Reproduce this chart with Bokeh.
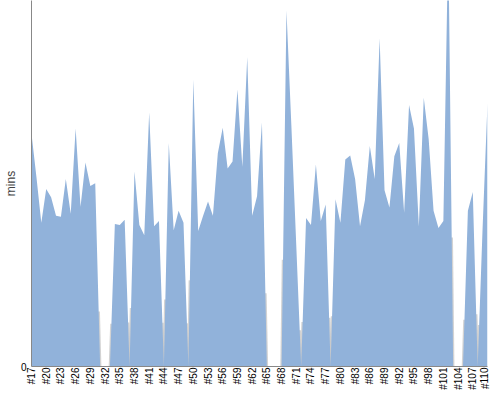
from bokeh.plotting import figure
from bokeh.models import Range1d, FixedTicker, ColumnDataSource
from bokeh.embed import file_html
from bokeh.resources import INLINE

builds = list(range(17, 111))
mins = [62.2, 50.7, 38.4, 47.4, 45.2, 40.3, 40.0, 50.1, 40.8, 63.6,
        42.7, 54.5, 48.2, 49.0, 0, 0, 0, 38.1, 37.8, 39.2,
        0, 52.1, 37.8, 35.1, 67.9, 37.5, 38.9, 0, 59.7, 36.4,
        41.6, 38.4, 0, 76.7, 36.2, 40.3, 44.1, 40.3, 57.0, 63.8,
        52.9, 54.8, 74.0, 53.4, 82.7, 40.3, 45.5, 65.2, 0, 0,
        0, 0, 95.1, 64.4, 32.3, 0, 39.7, 37.8, 54.0, 38.9,
        43.3, 0, 44.7, 38.4, 55.3, 56.4, 50.1, 37.5, 44.4, 58.9,
        50.1, 87.7, 47.1, 42.5, 56.2, 59.7, 41.1, 69.9, 63.6, 37.5,
        71.8, 60.8, 41.6, 37.0, 38.9, 115.0, 0, 0, 0, 41.6,
        46.6, 0, 37.0, 70.4]
tick_builds = list(range(17, 111, 3))
tick_labels = {b: "#%d" % b for b in tick_builds}

p = figure(width=490, height=392, output_backend="svg", toolbar_location=None,
           x_range=Range1d(17, 110), y_range=Range1d(0, 97.8),
           min_border_left=25, min_border_right=3, min_border_top=0, min_border_bottom=0)
p.outline_line_color = None
p.xgrid.visible = False
p.ygrid.visible = False

src = ColumnDataSource(dict(x=builds, y=mins))

# gray edges where the series drops to zero
sx0, sy0, sx1, sy1 = [], [], [], []
for i, v in enumerate(mins):
    if v == 0:
        for j in (i - 1, i + 1):
            if 0 <= j < len(mins) and mins[j] > 0:
                f = 0.3
                sx0.append(builds[i]); sy0.append(0)
                sx1.append(builds[i] + (builds[j] - builds[i]) * f)
                sy1.append(mins[j] * f)
p.segment(x0=sx0, y0=sy0, x1=sx1, y1=sy1, line_color="#c8c8c8", line_width=2.5, line_alpha=0.8)
p.varea(x="x", y1=0, y2="y", source=src, fill_color="#91b2da")

p.xaxis.ticker = FixedTicker(ticks=tick_builds)
p.xaxis.major_label_overrides = tick_labels
p.xaxis.major_label_orientation = 1.5708
p.xaxis.major_label_text_font_size = "10px"
p.xaxis.major_label_text_color = "#000000"
p.xaxis.major_label_text_font = "Liberation Sans"
p.xaxis.axis_line_color = "#888888"
p.xaxis.major_tick_line_color = None
p.xaxis.minor_tick_line_color = None
p.xaxis.major_tick_out = 0
p.xaxis.major_tick_in = 0
p.xaxis.minor_tick_out = 0
p.xaxis.major_label_standoff = 1

p.yaxis.ticker = FixedTicker(ticks=[0])
p.yaxis.axis_label = "mins"
p.yaxis.axis_label_text_font_style = "normal"
p.yaxis.axis_label_text_font_size = "12px"
p.yaxis.axis_label_text_font = "Liberation Sans"
p.yaxis.axis_label_standoff = 0
p.yaxis.major_label_text_font_size = "10px"
p.yaxis.major_label_text_font = "Liberation Sans"
p.yaxis.major_label_text_color = "#000000"
p.yaxis.major_label_standoff = 5
p.yaxis.axis_line_color = "#888888"
p.yaxis.major_tick_line_color = None
p.yaxis.minor_tick_line_color = None
p.yaxis.major_tick_out = 0
p.yaxis.major_tick_in = 0
p.yaxis.minor_tick_out = 0

open("out.html", "w").write(file_html(p, INLINE))
